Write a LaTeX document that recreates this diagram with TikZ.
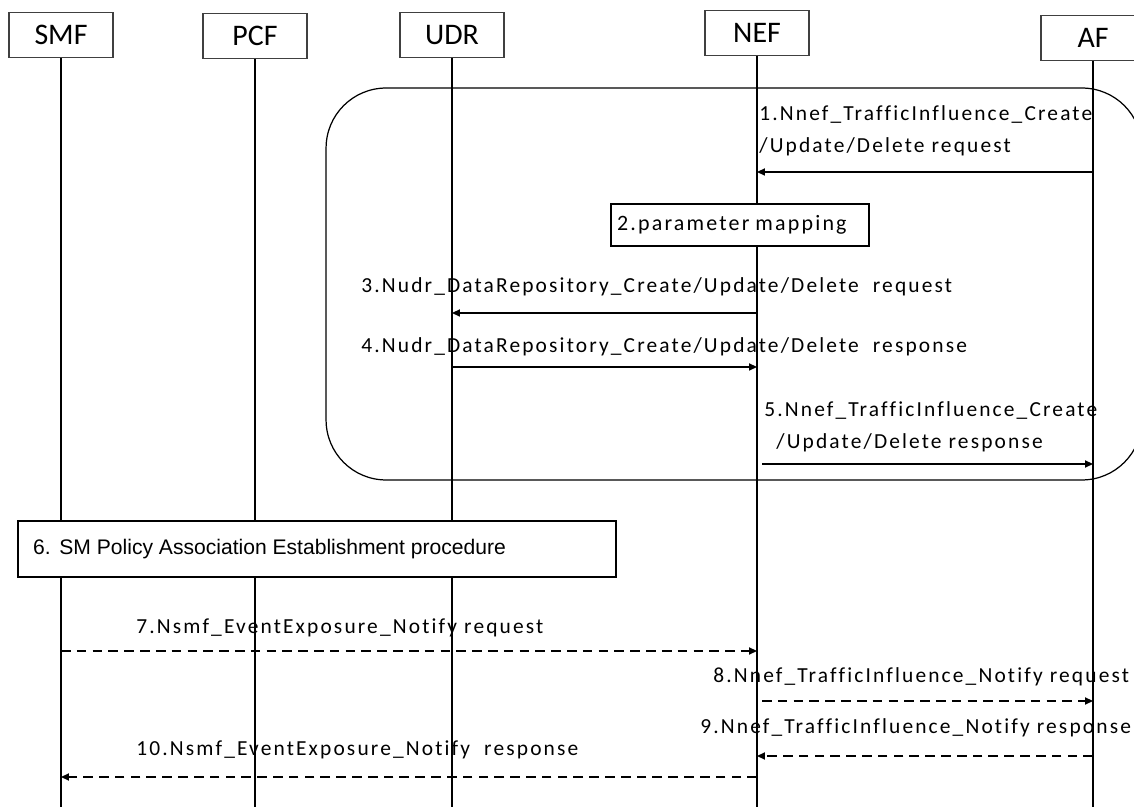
\documentclass[tikz,border=0pt]{standalone}
\usepackage{fontspec}
\setmainfont{Carlito}
\newfontfamily\lblfont{Carlito}[LetterSpace=10, Ligatures=NoCommon]
\newfontfamily\arialfont{Liberation Sans}
\usetikzlibrary{arrows.meta}
\tikzset{
    >={Triangle[length=4.5pt, width=4pt]},
    % Shapes
    nf/.style={rectangle, draw=black!75, line width=0.6pt, fill=white,
               minimum width=2.08cm, minimum height=0.9cm, inner sep=0pt,
               font=\fontsize{17}{20}\selectfont},
    frame/.style={rectangle, draw, line width=0.7pt, rounded corners=1.2cm,
                  minimum width=16.32cm, minimum height=7.84cm},
    stepbox/.style={rectangle, draw, line width=0.7pt, fill=white, inner xsep=0.12cm,
                    align=left},
    % Flow & Labels
    life/.style={line width=0.6pt},
    msg/.style={->, line width=0.9pt},
    dmsg/.style={msg, dash pattern=on 5.5pt off 3.5pt},
    lbl/.style={anchor=west, inner sep=0pt, align=left,
                font=\lblfont\fontsize{12.2}{18}\selectfont}
}
\begin{document}
\begin{tikzpicture}[x=0.02cm, y=-0.02cm]
\useasboundingbox (0,0) rectangle (1134,807);

% Network functions and lifelines
\node[nf] (smf) at (61,35) {SMF};
\node[nf] (pcf) at (255,36) {PCF};
\node[nf] (udr) at (452,35) {UDR};
\node[nf] (nef) at (757,33) {NEF};
\node[nf] (af) at (1093,38) {AF};
\coordinate (bottom) at (0,807);
\foreach \n in {smf,pcf,udr,nef,af}
    \draw[life] (\n.south) -- (\n.south |- bottom);

\node[frame] (loop) at (734,284) {};

% Steps 1-5
\draw[msg] (af |- 0,172) -- (nef |- 0,172);
\node[lbl] (l1) at (759,131) {1.Nnef\_TrafficInfluence\_Create\\/Update/Delete request};
\node[stepbox, text width=4.92cm, minimum height=0.84cm] (map) at (740,225)
    {\lblfont\fontsize{12.5}{14}\selectfont 2.parameter mapping};
\node[lbl] (l3) at (361,287) {3.Nudr\_DataRepository\_Create/Update/Delete\ \ request};
\draw[msg] (nef |- 0,313) -- (udr |- 0,313);
\node[lbl] (l4) at (361,347) {4.Nudr\_DataRepository\_Create/Update/Delete\ \ response};
\draw[msg] (udr |- 0,367) -- (nef |- 0,367);
\node[lbl] (l5) at (764,427) {5.Nnef\_TrafficInfluence\_Create\\\hspace*{0.24cm}/Update/Delete response};
\draw[msg, shorten <=0.1cm] (nef |- 0,464) -- (af |- 0,464);

% Step 6
\node[stepbox, text width=11.36cm, minimum height=1.12cm, inner xsep=0.3cm] (smpol) at (317,549)
    {\arialfont\fontsize{12}{14}\selectfont 6. SM Policy Association Establishment procedure};

% Steps 7-10
\node[lbl] (l7) at (136,628) {7.Nsmf\_EventExposure\_Notify request};
\draw[dmsg] (smf |- 0,651) -- (nef |- 0,651);
\node[lbl] (l8) at (713,677) {8.Nnef\_TrafficInfluence\_Notify request};
\draw[dmsg, shorten <=0.1cm] (nef |- 0,701) -- (af |- 0,701);
\node[lbl] (l9) at (700,728) {9.Nnef\_TrafficInfluence\_Notify response};
\draw[dmsg] (af |- 0,756) -- (nef |- 0,756);
\node[lbl] (l10) at (136,750) {10.Nsmf\_EventExposure\_Notify\ \ response};
\draw[dmsg] (nef |- 0,777) -- (smf |- 0,777);

\end{tikzpicture}
\end{document}
